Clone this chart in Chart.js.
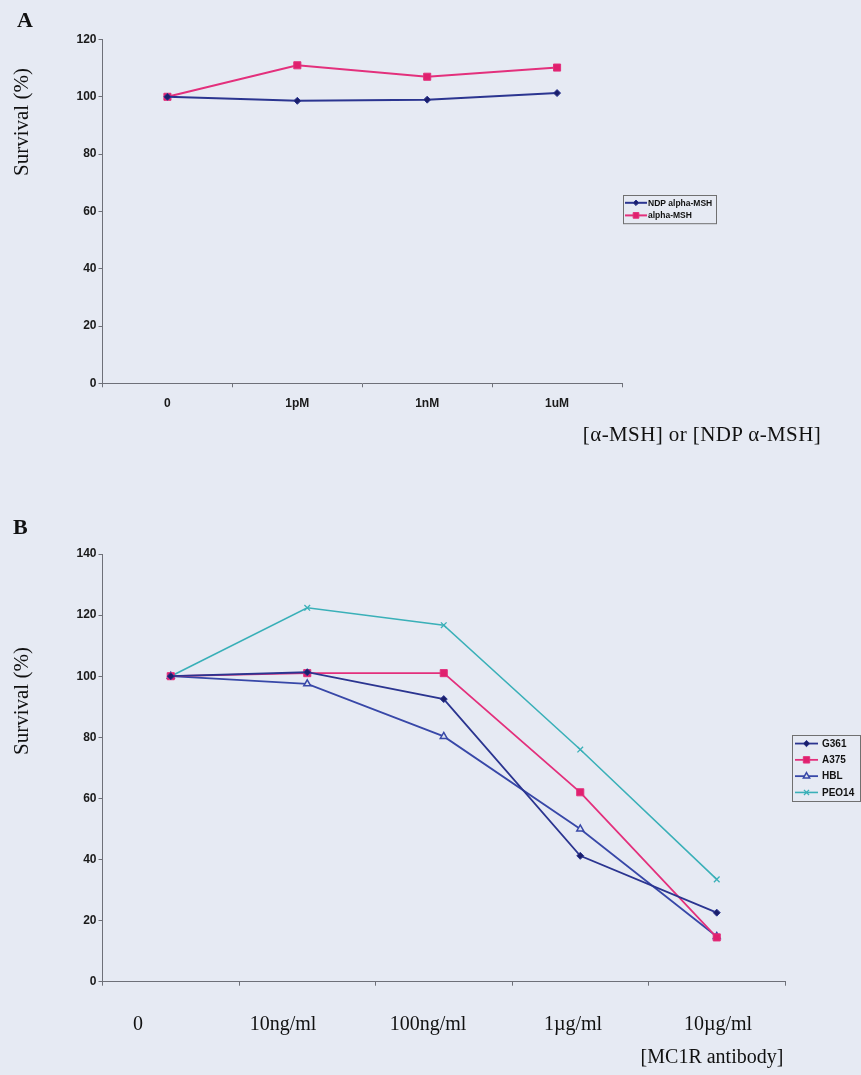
<!DOCTYPE html>
<html><head><meta charset="utf-8">
<script src="https://cdn.jsdelivr.net/npm/chart.js@4"></script>
<style>
html,body{margin:0;padding:0;background:#E6EAF3;}
#page{position:relative;width:861px;height:1075px;overflow:hidden;background:#E6EAF3;}
canvas{position:absolute;left:0;}
.t{position:absolute;font-family:"Liberation Serif","Times New Roman",serif;color:#111;white-space:nowrap;line-height:1;}
.rot{transform:translate(-50%,-50%) rotate(-90deg);}
.ctr{transform:translate(-50%,-50%);}
</style></head><body><div id="page">
<canvas id="cA" width="861" height="470" style="top:0px"></canvas>
<canvas id="cB" width="861" height="595" style="top:480px"></canvas>
<div class="t" style="left:17px;top:9px;font-size:22px;font-weight:bold;">A</div>
<div class="t rot" style="left:21px;top:122px;font-size:21px;">Survival (%)</div>
<div class="t ctr" style="left:702px;top:434px;font-size:21px;letter-spacing:0.4px;">[α-MSH] or [NDP α-MSH]</div>
<div class="t" style="left:13px;top:516px;font-size:22px;font-weight:bold;">B</div>
<div class="t rot" style="left:21px;top:701px;font-size:21px;">Survival (%)</div>
<div class="t ctr" style="left:712px;top:1056px;font-size:20px;">[MC1R antibody]</div>
<div id="bLabels"></div>
</div>
<script>
// ---- data ----
const catsA = ['0', '1pM', '1nM', '1uM'];
const ndpAlphaMSH = [100, 98.6, 99, 101.3];
const alphaMSH = [100, 111, 107, 110.2];
const yMaxA = 120, yStepA = 20;

const catsB = ['0', '10ng/ml', '100ng/ml', '1\u00b5g/ml', '10\u00b5g/ml'];
const g361 = [100, 101.3, 92.5, 41.2, 22.6];
const a375 = [100, 101, 101, 62, 14.5];
const hbl = [100, 97.5, 80.3, 50, 14.8];
const peo14 = [100, 122.4, 116.7, 76, 33.5];
const yMaxB = 140, yStepB = 20;

const NAVY = '#2B3590', PINK = '#E3307C', BLUE = '#3848A8', TEAL = '#3AB0B8';
const AXIS = '#6E7078';
const tickFont = {family: '"Liberation Sans", Arial, sans-serif', size: 12, weight: 'bold'};

const legendBox = {
  id: 'legendBox',
  afterDraw(chart, args, o) {
    const {ctx, chartArea: ca} = chart;
    const ds = chart.data.datasets;
    const h = ds.length * o.rowH + o.padY * 2;
    const x = Math.round(ca.right + o.gap);
    const y = Math.round((ca.top + ca.bottom) / 2 - h / 2 + o.dy);
    ctx.save();
    ctx.strokeStyle = '#707070'; ctx.lineWidth = 1;
    ctx.strokeRect(x + 0.5, y + 0.5, o.width, h);
    ds.forEach((d, i) => {
      const cy = y + o.padY + o.rowH * (i + 0.5);
      ctx.strokeStyle = d.borderColor; ctx.lineWidth = d.borderWidth;
      ctx.beginPath(); ctx.moveTo(x + o.x0, cy); ctx.lineTo(x + o.x1, cy); ctx.stroke();
      ctx.fillStyle = d.pointBackgroundColor; ctx.strokeStyle = d.pointBorderColor;
      ctx.lineWidth = d.pointBorderWidth;
      Chart.helpers.drawPoint(ctx, {pointStyle: d.pointStyle, radius: d.pointRadius * o.ms, borderWidth: d.pointBorderWidth, rotation: 0}, x + (o.x0 + o.x1) / 2, cy);
      ctx.fillStyle = '#111'; ctx.font = o.font; ctx.textBaseline = 'middle'; ctx.textAlign = 'left';
      ctx.fillText(d.label, x + o.tx, cy + 0.5);
    });
    ctx.restore();
  }
};

function ds(label, data, color, style, r, bg, bw, lw) {
  return {label, data, borderColor: color, borderWidth: lw, pointStyle: style, pointRadius: r,
    pointBackgroundColor: bg || color, pointBorderColor: color, pointBorderWidth: bw || 1,
    tension: 0, fill: false};
}

function yScale(max, step, w) {
  return {min: 0, max: max, afterFit: s => { s.width = w; },
    border: {display: true, color: AXIS, width: 1},
    grid: {display: true, drawOnChartArea: false, drawTicks: true, tickLength: 4, color: AXIS},
    ticks: {stepSize: step, font: tickFont, color: '#1a1a1a', padding: 2}};
}

Chart.defaults.animation = false;

new Chart(document.getElementById('cA'), {
  type: 'line',
  data: {labels: catsA, datasets: [
    ds('NDP alpha-MSH', ndpAlphaMSH, NAVY, 'rectRot', 3.5, '#1B1F6B', 1, 2),
    ds('alpha-MSH', alphaMSH, PINK, 'rect', 5, '#E0206E', 1, 2)
  ]},
  options: {
    responsive: false, devicePixelRatio: 1,
    layout: {padding: {top: 39.5, left: 0, right: 239, bottom: 46.7}},
    plugins: {legend: {display: false}, tooltip: {enabled: false},
      legendBox: {gap: 1, width: 93, rowH: 12.6, padY: 1.5, dy: -2.4, x0: 2, x1: 24, tx: 25, ms: 0.8,
        font: 'bold 8.5px "Liberation Sans", Arial, sans-serif'}},
    scales: {
      x: {offset: true, afterFit: s => { s.height = 40; },
        border: {display: true, color: AXIS, width: 1},
        grid: {display: true, offset: true, drawOnChartArea: false, drawTicks: true, tickLength: 4, color: AXIS},
        ticks: {font: tickFont, color: '#1a1a1a', padding: 9, maxRotation: 0}},
      y: yScale(yMaxA, yStepA, 102.5)
    }
  },
  plugins: [legendBox]
});

const chartB = new Chart(document.getElementById('cB'), {
  type: 'line',
  data: {labels: catsB, datasets: [
    ds('G361', g361, NAVY, 'rectRot', 3.5, '#1B1F6B', 1, 1.8),
    ds('A375', a375, PINK, 'rect', 5, '#E0206E', 1, 1.8),
    ds('HBL', hbl, BLUE, 'triangle', 4, '#DDE2EE', 1.5, 1.8),
    ds('PEO14', peo14, TEAL, 'crossRot', 4, TEAL, 1.3, 1.6)
  ]},
  options: {
    responsive: false, devicePixelRatio: 1,
    layout: {padding: {top: 74, left: 0, right: 76, bottom: 73.3}},
    plugins: {legend: {display: false}, tooltip: {enabled: false},
      legendBox: {gap: 7, width: 68, rowH: 16.3, padY: 0.4, dy: 0, x0: 3, x1: 26, tx: 30, ms: 0.9,
        font: 'bold 10px "Liberation Sans", Arial, sans-serif'}},
    scales: {
      x: {offset: true, afterFit: s => { s.height = 20; },
        border: {display: true, color: AXIS, width: 1},
        grid: {display: true, offset: true, drawOnChartArea: false, drawTicks: true, tickLength: 4, color: AXIS},
        ticks: {display: false}},
      y: yScale(yMaxB, yStepB, 102.5)
    }
  },
  plugins: [legendBox]
});

// typed category labels under panel B (serif, placed as in the figure)
(function () {
  const ca = chartB.chartArea;
  const host = document.getElementById('bLabels');
  catsB.forEach((lab, i) => {
    const d = document.createElement('div');
    d.className = 't ctr';
    d.style.fontSize = '20px';
    d.style.left = (ca.left + 35.5 + i * 145) + 'px';
    d.style.top = (480 + ca.bottom + 41.5) + 'px';
    d.textContent = lab;
    host.appendChild(d);
  });
})();
</script>
</body></html>
